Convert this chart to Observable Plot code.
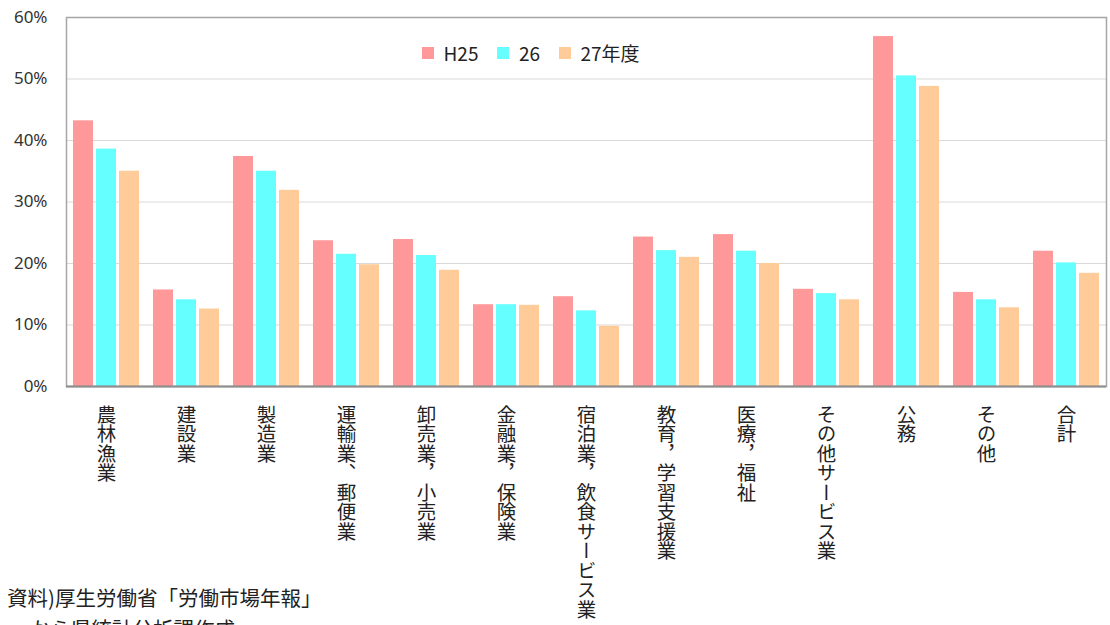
<!DOCTYPE html>
<html><head><meta charset="utf-8">
<script src="https://cdn.jsdelivr.net/npm/d3@7"></script>
<script src="https://cdn.jsdelivr.net/npm/@observablehq/plot@0.6"></script>
<style>
body{margin:0;background:#fff;font-family:"Noto Sans CJK JP","Noto Sans",sans-serif;}
#wrap{position:relative;width:1110px;height:625px;overflow:hidden;}
#legend{position:absolute;left:422px;top:36px;}
#caption{position:absolute;left:7px;top:582px;font-size:20.5px;line-height:31px;color:#222;white-space:pre;}
g[aria-label="fx-axis tick label"] text{writing-mode:vertical-rl;}
</style></head><body><div id="wrap"><div id="chart"></div><div id="legend"></div><div id="caption"></div></div>
<script>
const categories = ["農林漁業","建設業","製造業","運輸業、郵便業","卸売業，小売業","金融業，保険業","宿泊業，飲食サービス業","教育，学習支援業","医療，福祉","その他サービス業","公務","その他","合計"];
const seriesNames = ["H25","26","27年度"];
const valuesH25 = [43.2,15.7,37.4,23.7,23.9,13.3,14.6,24.3,24.7,15.8,56.9,15.3,22.0];
const values26  = [38.6,14.1,35.0,21.5,21.3,13.3,12.3,22.1,22.0,15.1,50.5,14.1,20.1];
const values27  = [35.0,12.6,31.9,19.8,18.9,13.2,9.8,21.0,20.0,14.1,48.8,12.8,18.4];
const colors = ["#FF9999","#66FFFF","#FFCC99"];
const yTicks = [0,10,20,30,40,50,60];
const captionLines = ["資料)厚生労働省「労働市場年報」","     から県統計分析課作成"];

const seriesValues = [valuesH25, values26, values27];
const rows = categories.flatMap((c,i)=>seriesNames.map((s,j)=>({cat:c,series:s,value:seriesValues[j][i]})));

const chart = Plot.plot({
  width:1110,height:625,marginLeft:65,marginRight:3,marginTop:17,marginBottom:239,
  style:{fontFamily:"'Noto Sans CJK JP', sans-serif", background:"#fff"},
  fx:{domain:categories,padding:0,label:null},
  x:{domain:seriesNames,axis:null,paddingInner:0.15,paddingOuter:0.3},
  y:{domain:[0,60],label:null},
  color:{domain:seriesNames,range:colors},
  marks:[
    Plot.gridY(yTicks.filter(t=>t>0&&t<60),{stroke:"#d9d9d9",strokeOpacity:1}),
    Plot.barY(rows,{fx:"cat",x:"series",y:"value",fill:"series"}),
    Plot.frame({facet:"super",stroke:"#a6a6a6",strokeWidth:1.5}),
    Plot.ruleY([0],{stroke:"#8c8c8c",strokeWidth:2}),
    Plot.axisY(yTicks,{tickFormat:d=>d+"%",tickSize:0,tickPadding:19,fontSize:17,fill:"#333",fontFamily:"'Noto Sans', sans-serif"}),
    Plot.axisFx({anchor:"bottom",tickSize:0,tickPadding:4,fontSize:19.5,textAnchor:"start",fill:"#222",label:null})
  ]
});
document.getElementById("chart").appendChild(chart);
const leg = chart.legend("color",{legend:"swatches",swatchSize:12,style:{fontSize:"19px",fontFamily:"'Noto Sans CJK JP', sans-serif",color:"#222"}});
document.getElementById("legend").appendChild(leg);
document.getElementById("caption").textContent = captionLines.join("\n");
</script></body></html>
